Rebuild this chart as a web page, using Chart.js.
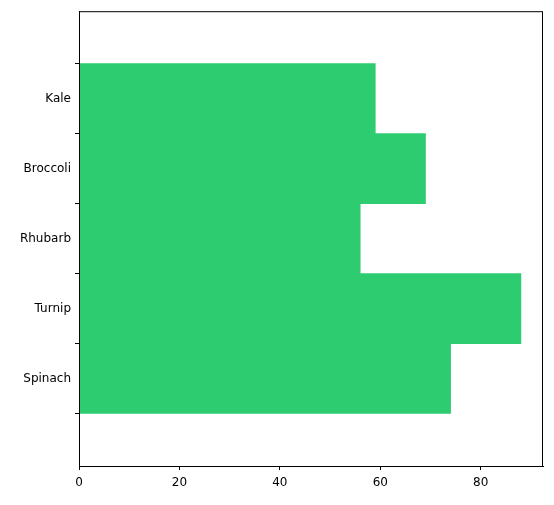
<!DOCTYPE html>
<html>
<head>
<meta charset="utf-8">
<script src="https://cdn.jsdelivr.net/npm/chart.js@4/dist/chart.umd.min.js"></script>
<style>
  html, body { margin: 0; padding: 0; background: #fff; }
  #wrap { width: 554px; height: 505px; position: relative; }
</style>
</head>
<body>
<div id="wrap"><canvas id="c"></canvas></div>
<script>
const categories = ["Kale", "Broccoli", "Rhubarb", "Turnip", "Spinach"];
const values = [59, 69, 56, 88, 74];
const xTicks = [0, 20, 40, 60, 80];

new Chart(document.getElementById("c"), {
  type: "bar",
  data: {
    datasets: [{
      data: values.map((v, i) => ({ x: v, y: i })),
      backgroundColor: "#2ecc71",
      barThickness: 70,
    }],
  },
  options: {
    indexAxis: "y",
    responsive: true,
    maintainAspectRatio: false,
    animation: false,
    layout: { padding: { top: 9, right: 11, bottom: 4, left: 0 } },
    plugins: { legend: { display: false }, tooltip: { enabled: false } },
    scales: {
      x: {
        type: "linear",
        min: 0, max: 92.4,
        grid: { display: true, drawOnChartArea: false, drawTicks: true, tickLength: 4, color: "#000" },
        border: { color: "#000" },
        afterBuildTicks: (ax) => { ax.ticks = xTicks.map((v) => ({ value: v })); },
        afterFit: (ax) => { ax.height = 35; },
        ticks: { color: "#000", font: { family: "DejaVu Sans", size: 12 }, padding: 6 },
      },
      y: {
        type: "linear",
        min: -0.6, max: 4.6,
        reverse: true,
        grid: { display: true, drawOnChartArea: false, drawTicks: true, tickLength: 4, color: "#000" },
        border: { color: "#000" },
        afterBuildTicks: (ax) => { ax.ticks = categories.map((c, i) => ({ value: i })); },
        afterFit: (ax) => { ax.width = 79; },
        ticks: {
          color: "#000", font: { family: "DejaVu Sans", size: 12 }, padding: 4,
          callback: (v) => categories[v],
        },
      },
    },
  },
  plugins: [{
    id: "frame",
    afterDraw(chart) {
      const { ctx, chartArea: a } = chart;
      ctx.save();
      ctx.strokeStyle = "#000";
      ctx.lineWidth = 1;
      ctx.strokeRect(a.left + 0.5, a.top + 0.5, a.right - a.left - 1, a.bottom - a.top);
      ctx.restore();
    },
  }],
});
</script>
</body>
</html>
